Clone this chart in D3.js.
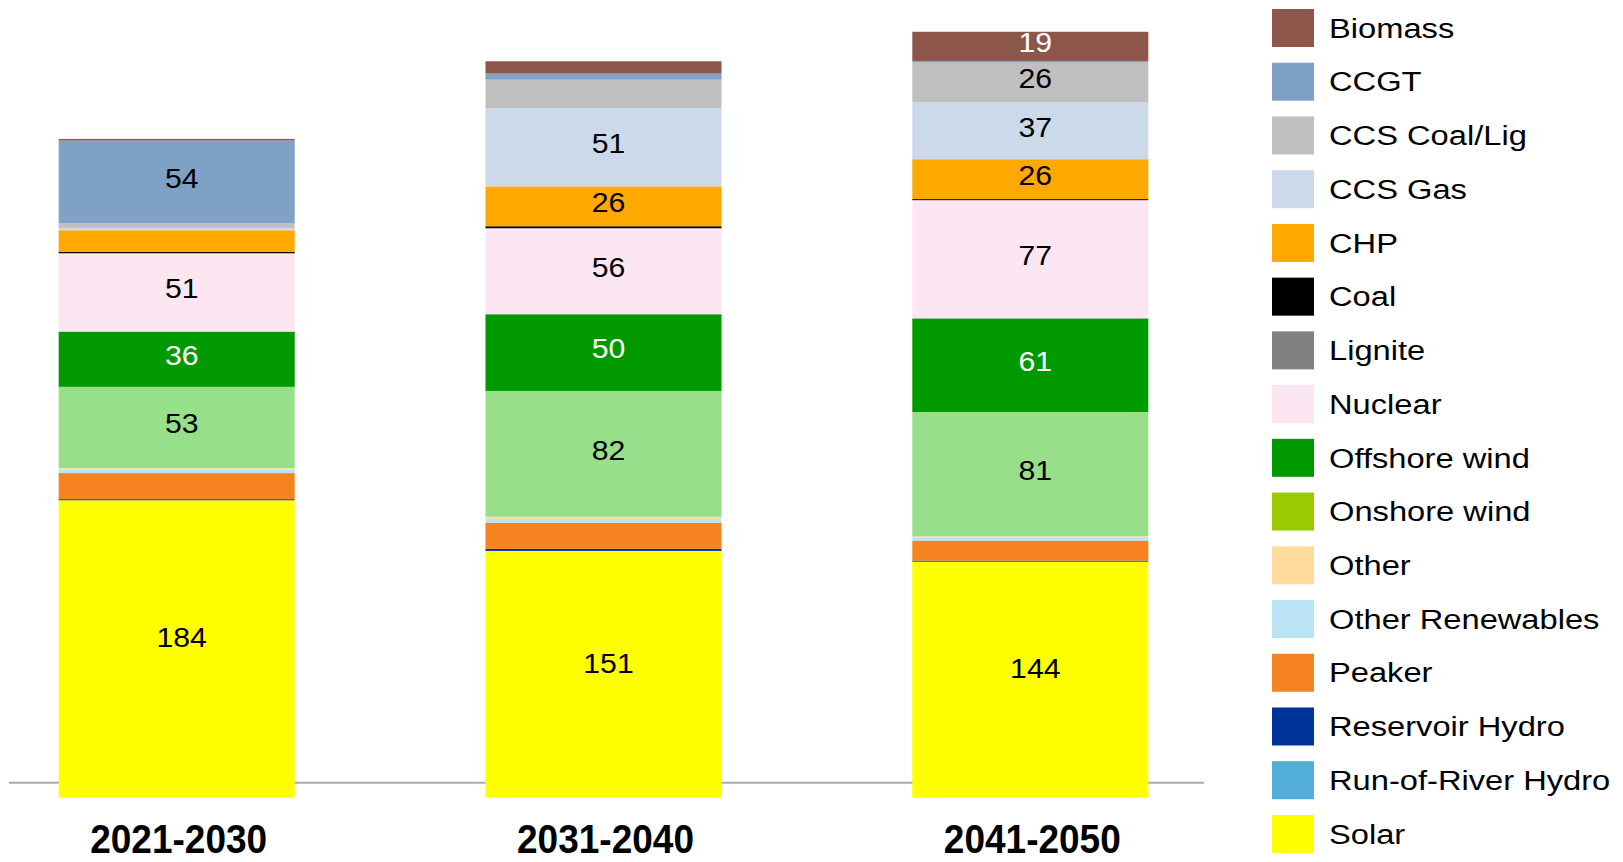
<!DOCTYPE html>
<html>
<head>
<meta charset="utf-8">
<script src="https://cdn.jsdelivr.net/npm/d3@7"></script>
<style>
  html, body { margin: 0; padding: 0; background: #fff; }
  svg { display: block; }
  text { font-family: "Liberation Sans", Arial, Helvetica, sans-serif; }
</style>
</head>
<body>
<svg id="chart" width="1623" height="862"></svg>
<script>
// Decades on the x axis
const categories = ["2021-2030", "2031-2040", "2041-2050"];

// Technologies in legend order (stacked bottom-up in reverse)
const technologies = [
  "Biomass", "CCGT", "CCS Coal/Lig", "CCS Gas", "CHP", "Coal", "Lignite",
  "Nuclear", "Offshore wind", "Onshore wind", "Other", "Other Renewables",
  "Peaker", "Reservoir Hydro", "Run-of-River Hydro", "Solar"
];

// Capacity per technology, one value per decade
const biomass          = [1,   8,    19];
const ccgt             = [54,  4,    1];
const ccsCoalLig       = [3,   18.5, 26];
const ccsGas           = [1.5, 51,   37];
const chp              = [14,  26,   26];
const coal             = [1,   1.3,  0.7];
const lignite          = [0,   0,    0];
const nuclear          = [51,  56,   77];
const offshoreWind     = [36,  50,   61];
const onshoreWind      = [53,  82,   81];
const other            = [0.8, 1.5,  1];
const otherRenewables  = [2.4, 2.4,  1.8];
const peaker           = [17,  17,   13];
const reservoirHydro   = [0.7, 1.3,  0.7];
const runOfRiverHydro  = [0,   0,    0];
const solar            = [184, 151,  144];

const seriesValues = [
  biomass, ccgt, ccsCoalLig, ccsGas, chp, coal, lignite, nuclear,
  offshoreWind, onshoreWind, other, otherRenewables, peaker,
  reservoirHydro, runOfRiverHydro, solar
];

// Swatch colours in the legend
const legendColors = [
  "#8C564B", "#7FA1C6", "#BFBFBF", "#CCD9E8", "#FFA800", "#000000", "#808080",
  "#FCE6F2", "#009900", "#99CC00", "#FFDC9C", "#BBE3F6", "#F58420",
  "#003399", "#52AED6", "#FFFF00"
];
// Fill colours used in the bars (onshore wind is drawn lighter)
const barColors = legendColors.slice();
barColors[technologies.indexOf("Onshore wind")] = "#98DF8A";

// Segments whose value label is drawn in white
const whiteLabelTech = ["Biomass", "Offshore wind"];
const labelThreshold = 19;

// Build table rows for d3.stack
const table = categories.map((c, i) => {
  const row = { category: c };
  technologies.forEach((t, j) => { row[t] = seriesValues[j][i]; });
  return row;
});

const svg = d3.select("#chart");

const baseY = 782.7;
const overhang = 15; // bars run a little past the base line

const x = d3.scaleBand()
  .domain(categories)
  .range([16, 1191])
  .paddingInner(0.447)
  .paddingOuter(0.1);

const y = d3.scaleLinear()
  .domain([0, 500])
  .range([baseY, baseY - 500 * 1.535]);

const color = d3.scaleOrdinal().domain(technologies).range(barColors);

const stackKeys = technologies.slice().reverse();
const stacked = d3.stack().keys(stackKeys)(table);

// Base line
svg.append("line")
  .attr("x1", 9).attr("x2", 1204)
  .attr("y1", y(0)).attr("y2", y(0))
  .attr("stroke", "#ABABAB")
  .attr("stroke-width", 2);

// Stacked bars
const layers = svg.append("g").attr("class", "bars")
  .selectAll("g")
  .data(stacked)
  .join("g")
  .attr("fill", d => color(d.key));

layers.selectAll("rect")
  .data(d => d.map(s => ({ key: d.key, s })))
  .join("rect")
  .attr("x", d => x(d.s.data.category))
  .attr("width", x.bandwidth())
  .attr("y", d => y(d.s[1]))
  .attr("height", d => {
    const h = y(d.s[0]) - y(d.s[1]);
    return d.s[0] === 0 && h > 0 ? h + overhang : h;
  });

// Value labels
const labels = [];
stacked.forEach(layer => {
  layer.forEach(s => {
    const v = s[1] - s[0];
    if (v >= labelThreshold) {
      labels.push({ key: layer.key, v, cat: s.data.category, mid: (y(s[0]) + y(s[1])) / 2 });
    }
  });
});

svg.append("g").attr("class", "values")
  .selectAll("text")
  .data(labels)
  .join("text")
  .attr("transform", d => `translate(${x(d.cat) + x.bandwidth() / 2 + 5},${d.mid - 4}) scale(1.12,1)`)
  .attr("text-anchor", "middle")
  .attr("dy", "0.36em")
  .attr("font-size", 27)
  .attr("fill", d => whiteLabelTech.includes(d.key) ? "#ffffff" : "#000000")
  .text(d => d3.format("d")(Math.round(d.v)));

// Category labels
svg.append("g").attr("class", "categories")
  .selectAll("text")
  .data(categories)
  .join("text")
  .attr("x", d => x(d) + x.bandwidth() / 2 + 2)
  .attr("y", 853)
  .attr("text-anchor", "middle")
  .attr("font-size", 40)
  .attr("font-weight", "bold")
  .attr("textLength", 177)
  .attr("lengthAdjust", "spacingAndGlyphs")
  .text(d => d);

// Legend
const legendY = d3.scalePoint()
  .domain(technologies)
  .range([9, 9 + 15 * 53.73]);

const legend = svg.append("g").attr("class", "legend")
  .selectAll("g")
  .data(technologies)
  .join("g")
  .attr("transform", d => `translate(1272,${legendY(d)})`);

legend.append("rect")
  .attr("width", 42)
  .attr("height", 38)
  .attr("fill", (d, i) => legendColors[i]);

legend.append("text")
  .attr("transform", "translate(57,19) scale(1.21,1)")
  .attr("dy", "0.36em")
  .attr("font-size", 27)
  .attr("fill", "#000")
  .text(d => d);
</script>
</body>
</html>
